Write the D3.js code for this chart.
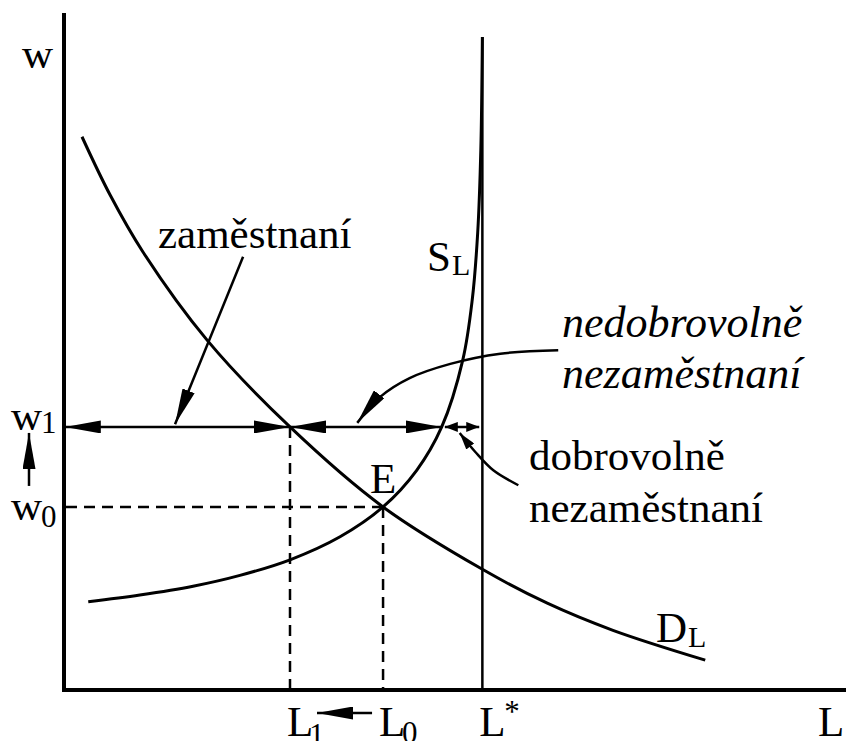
<!DOCTYPE html>
<html>
<head>
<meta charset="utf-8">
<script src="https://cdn.jsdelivr.net/npm/d3@7"></script>
<style>
  body { margin: 0; background: #fff; }
  text { font-family: "Liberation Serif", "Times New Roman", Times, serif; fill: #000; }
</style>
</head>
<body>
<div id="chart"></div>
<script>
// labour market: demand D_L, supply S_L, labour force L*
let demand = [[2.3, 81.6], [5.9, 73.0], [10.1, 64.6], [18.3, 51.6], [28.9, 38.8],
              [40.8, 27.0], [53.5, 17.8], [61.8, 12.8], [70.2, 8.8], [82.0, 4.4]];
let supply = [[3.1, 13.0], [9.7, 14.0], [16.5, 15.3], [22.5, 16.9], [28.9, 19.2],
              [35.3, 22.6], [40.8, 27.0], [45.1, 32.4], [48.3, 38.8], [51.0, 48.7],
              [52.2, 57.5], [52.9, 67.4], [53.3, 79.6], [53.5, 96.3]];

let lStar = 53.5, l0 = 40.8, l1 = 28.9, w0 = 27.0, w1 = 38.8,
    wSupply1 = 48.3, lTop = 96.3;

// annotation pointers (from label to target)
let ptrEmployed = [[22.9, 63.9], [14.2, 39.2]];
let ptrInvoluntary = [[63.2, 50.1], [55.8, 49.6], [49.4, 48.1], [44.2, 46.0], [40.4, 43.2], [37.5, 39.4]];
let ptrVoluntary = [[58.1, 30.2], [54.9, 32.4], [52.6, 35.1], [50.6, 37.9]];

let width = 846, height = 741;

let x = d3.scaleLinear().domain([0, 100]).range([64, 846]);
let y = d3.scaleLinear().domain([0, 100]).range([690, 12]);

let svg = d3.select('#chart').append('svg')
    .attr('width', width)
    .attr('height', height);

let defs = svg.append('defs');
function marker(id, len, wid) {
    defs.append('marker')
        .attr('id', id)
        .attr('viewBox', '0 0 ' + len + ' ' + wid)
        .attr('markerUnits', 'userSpaceOnUse')
        .attr('markerWidth', len)
        .attr('markerHeight', wid)
        .attr('refX', len)
        .attr('refY', wid / 2)
        .attr('orient', 'auto-start-reverse')
        .append('path')
        .attr('d', 'M0,0L' + len + ',' + (wid / 2) + 'L0,' + wid + 'Z')
        .attr('fill', '#000');
}
marker('big', 36, 13);
marker('small', 13, 10);
marker('mid', 17, 10);

let line = d3.line()
    .curve(d3.curveCatmullRom.alpha(0.5))
    .x(d => x(d[0]))
    .y(d => y(d[1]));

// axes
svg.append('line').attr('x1', x(0)).attr('x2', x(0)).attr('y1', 13).attr('y2', y(0) + 2)
    .attr('stroke', '#000').attr('stroke-width', 4);
svg.append('line').attr('x1', x(0) - 2).attr('x2', x(100)).attr('y1', y(0)).attr('y2', y(0))
    .attr('stroke', '#000').attr('stroke-width', 4);

// dashed guides
let dash = svg.append('g').attr('stroke', '#000').attr('stroke-width', 2.5).attr('stroke-dasharray', '11,7');
dash.append('line').attr('x1', x(0) + 2).attr('x2', x(l0)).attr('y1', y(w0)).attr('y2', y(w0));
dash.append('line').attr('x1', x(l0)).attr('x2', x(l0)).attr('y1', y(w0)).attr('y2', y(0));
dash.append('line').attr('x1', x(l1)).attr('x2', x(l1)).attr('y1', y(w1)).attr('y2', y(0));

// L* vertical
svg.append('line').attr('x1', x(lStar)).attr('x2', x(lStar)).attr('y1', y(lTop)).attr('y2', y(0))
    .attr('stroke', '#000').attr('stroke-width', 2.5);

// curves
svg.append('path').datum(demand).attr('d', line)
    .attr('fill', 'none').attr('stroke', '#000').attr('stroke-width', 3);
svg.append('path').datum(supply).attr('d', line)
    .attr('fill', 'none').attr('stroke', '#000').attr('stroke-width', 3);

// w1 double arrows
function dbl(a, b, m) {
    svg.append('line')
        .attr('x1', x(a)).attr('x2', x(b)).attr('y1', y(w1)).attr('y2', y(w1))
        .attr('stroke', '#000').attr('stroke-width', 2.5)
        .attr('marker-start', 'url(#' + m + ')')
        .attr('marker-end', 'url(#' + m + ')');
}
dbl(0.1, l1, 'big');
dbl(l1, wSupply1, 'big');
dbl(48.7, 53.1, 'small');

// pointers
let ptrLine = d3.line().x(d => x(d[0])).y(d => y(d[1]));
svg.append('path').datum(ptrEmployed).attr('d', ptrLine)
    .attr('fill', 'none').attr('stroke', '#000').attr('stroke-width', 2.5)
    .attr('marker-end', 'url(#big)');
svg.append('path').datum(ptrInvoluntary).attr('d', line)
    .attr('fill', 'none').attr('stroke', '#000').attr('stroke-width', 2.5)
    .attr('marker-end', 'url(#big)');
svg.append('path').datum(ptrVoluntary).attr('d', line)
    .attr('fill', 'none').attr('stroke', '#000').attr('stroke-width', 2.5)
    .attr('marker-end', 'url(#mid)');

// shift arrows: w0 -> w1, L0 -> L1
svg.append('line').attr('x1', 29).attr('x2', 29).attr('y1', y(w0) - 21).attr('y2', y(w1) + 6)
    .attr('stroke', '#000').attr('stroke-width', 2.5).attr('marker-end', 'url(#big)');
svg.append('line').attr('x1', x(l0) - 11).attr('x2', x(l1) + 27).attr('y1', 713).attr('y2', 713)
    .attr('stroke', '#000').attr('stroke-width', 2.5).attr('marker-end', 'url(#big)');

// labels
function label(tx, ty, str, size, italic) {
    svg.append('text').attr('x', tx).attr('y', ty)
        .attr('font-size', size)
        .attr('font-style', italic ? 'italic' : 'normal')
        .text(str);
}
label(22, 68, 'w', 43);
label(11, 430, 'w', 43); label(41, 433, '1', 31);
label(11, 520, 'w', 43); label(41, 527, '0', 31);
label(x(l1) - 3, 736, 'L', 43); label(x(l1) + 19, 745, '1', 31);
label(x(l0) - 4, 736, 'L', 43); label(x(l0) + 19, 743, '0', 31);
label(x(lStar) - 3, 736, 'L', 43); label(x(lStar) + 22, 722, '*', 31);
label(818, 736, 'L', 43);
label(x(l0) - 13, 493, 'E', 43);
label(427, 271, 'S', 43); label(452, 275, 'L', 30);
label(656, 642, 'D', 43); label(688, 647, 'L', 30);
label(158, 248, 'zaměstnaní', 43);
label(562, 337, 'nedobrovolně', 44, true);
label(562, 388, 'nezaměstnaní', 44, true);
label(529, 470, 'dobrovolně', 43);
label(529, 522, 'nezaměstnaní', 43);
</script>
</body>
</html>
